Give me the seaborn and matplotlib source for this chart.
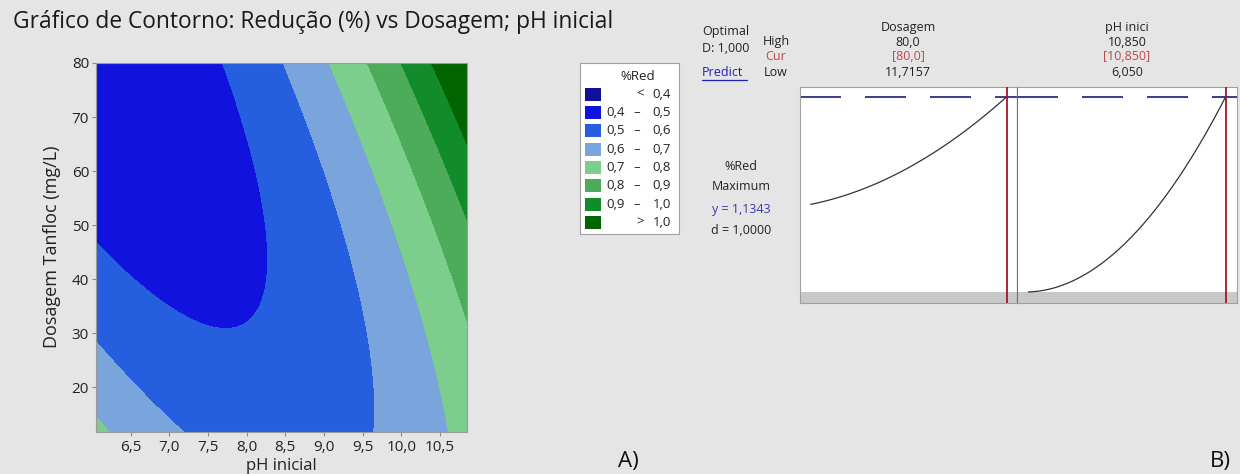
import numpy as np
import matplotlib
matplotlib.use("Agg")
import matplotlib.pyplot as plt
import seaborn as sns
from matplotlib.patches import Rectangle
from matplotlib.lines import Line2D

sns.set_theme(style="white")
plt.rcParams['font.family'] = ['Open Sans', 'DejaVu Sans']

# ---------------- data ----------------
ph_ticks = [6.5, 7.0, 7.5, 8.0, 8.5, 9.0, 9.5, 10.0, 10.5]
dose_ticks = [20, 30, 40, 50, 60, 70, 80]
ph_low, ph_high = 6.05, 10.85
dose_low, dose_high = 11.7157, 80.0
y_opt = 1.1343
d_opt = 1.0
D_opt = 1.0

# points on the contour boundaries (pH, dose, %Red)
pts_ph = [7.70, 8.03, 8.26, 8.29, 7.745, 6.97, 6.05,
          8.48, 8.83, 9.13, 9.45, 9.60, 9.66, 9.66, 6.05, 6.53, 7.18,
          9.04, 9.30, 9.56, 9.91, 10.17, 10.64, 6.05, 6.21,
          9.56, 9.95, 10.30, 10.64, 10.85,
          9.99, 10.30, 10.60, 10.85,
          10.38, 10.85,
          10.85, 10.85, 6.05]
pts_dose = [80, 70, 50.3, 42.3, 31.2, 38.0, 45.1,
            80, 70, 57.7, 42.3, 30, 14.6, 11.7, 27.8, 21.4, 11.7,
            80, 70, 57.7, 42.3, 30, 11.7, 14.6, 11.7,
            80, 70, 57.7, 42.3, 34.3,
            80, 70, 57.7, 52.2,
            80, 65.1,
            80, 11.7157, 80]
pts_red = [0.5] * 7 + [0.6] * 10 + [0.7] * 8 + [0.8] * 5 + [0.9] * 4 + [1.0] * 2 + [1.1343, 0.73, 0.42]

levels = [0.4, 0.5, 0.6, 0.7, 0.8, 0.9, 1.0]
colors = ['#10109a', '#1212de', '#265ee0', '#79a4dc', '#7dcd8c', '#4cac5a', '#128c2a', '#006400']

# ---------------- response surface (quadratic, as in Minitab) ----------------
def design(x, y):
    xs = (np.asarray(x, float) - 8.45) / 2.4
    ys = (np.asarray(y, float) - 45.86) / 34.14
    return np.column_stack([np.ones_like(xs), xs, ys, xs ** 2, ys ** 2, xs * ys])

coef, *_ = np.linalg.lstsq(design(pts_ph, pts_dose), np.array(pts_red), rcond=None)

def model(x, y):
    x, y = np.broadcast_arrays(np.asarray(x, float), np.asarray(y, float))
    return (design(x.ravel(), y.ravel()) @ coef).reshape(x.shape)

W, H = 1240, 474
def fx(px): return px / W
def fy(py): return 1 - py / H

bg = '#e5e5e5'
fig = plt.figure(figsize=(W / 100, H / 100), dpi=100, facecolor=bg)

# ---------------- A) contour plot ----------------
ax = fig.add_axes([fx(96), fy(432), fx(467) - fx(96), fy(63) - fy(432)])
pg = np.linspace(ph_low, ph_high, 400)
dg = np.linspace(dose_low, dose_high, 400)
PG, DG = np.meshgrid(pg, dg)
Z = model(PG, DG)
ax.contourf(PG, DG, Z, levels=levels, colors=colors, extend='both')
ax.set_xlim(ph_low, ph_high)
ax.set_ylim(dose_low, dose_high)
ax.set_xticks(ph_ticks)
ax.set_xticklabels([f"{t:.1f}".replace('.', ',') for t in ph_ticks])
ax.set_yticks(dose_ticks)
ax.set_yticklabels([str(t) for t in dose_ticks])
ax.tick_params(axis='both', which='both', direction='out', length=3, width=0.8,
               color='#8a8a8a', labelsize=11, labelcolor='#222222', bottom=True, left=True)
ax.tick_params(axis='x', pad=3)
ax.tick_params(axis='y', pad=2)
for s in ax.spines.values():
    s.set_color('#9a9a9a')
    s.set_linewidth(0.8)
ax.set_xlabel('')
ax.set_ylabel('')

fig.text(fx(13), fy(22), 'Gráfico de Contorno: Redução (%) vs Dosagem; pH inicial',
         ha='left', va='center', fontsize=16.4, color='#1a1a1a')
fig.text(fx(52), fy(247), 'Dosagem Tanfloc (mg/L)', rotation=90, ha='center', va='center',
         fontsize=13, color='#222222')
fig.text(fx(281), fy(473.5), 'pH inicial', ha='center', va='bottom', fontsize=12, color='#222222')

# legend box
lax = fig.add_axes([fx(580), fy(234), fx(679) - fx(580), fy(62.7) - fy(234)])
lax.set_xlim(580, 679)
lax.set_ylim(234, 62.7)
lax.set_facecolor('white')
lax.set_xticks([])
lax.set_yticks([])
for s in lax.spines.values():
    s.set_color('#a0a0a0')
    s.set_linewidth(0.8)
lfs = 9.5
lax.text(638, 76, '%Red', ha='center', va='center', fontsize=lfs, color='#222222')
fmt = lambda v: f"{v:.1f}".replace('.', ',')
rows = [('', '<', fmt(levels[0]))]
rows += [(fmt(levels[i]), '–', fmt(levels[i + 1])) for i in range(len(levels) - 1)]
rows += [('', '>', fmt(levels[-1]))]
for i, (c, (a, sep, b)) in enumerate(zip(colors, rows)):
    yy = 94.3 + i * 18.3
    lax.add_patch(Rectangle((585, yy - 6.5), 16, 13, facecolor=c, edgecolor='none'))
    if a:
        lax.text(606, yy, a, ha='left', va='center', fontsize=lfs, color='#222222')
        lax.text(637, yy, sep, ha='center', va='center', fontsize=lfs, color='#222222')
    else:
        lax.text(640, yy, sep, ha='center', va='center', fontsize=lfs, color='#222222')
    lax.text(671, yy, b, ha='right', va='center', fontsize=lfs, color='#222222')

fig.text(fx(628), fy(461), 'A)', ha='center', va='center', fontsize=16, color='#111111')

# ---------------- B) optimization profiler ----------------
d_curve = np.linspace(dose_low, dose_high, 200)
p_curve = np.linspace(ph_low, ph_high, 200)
zd = model(ph_high, d_curve)
zp = model(p_curve, dose_high)
zhi = float(model(ph_high, dose_high))
zlo = float(min(zd.min(), zp.min()))
rng = zhi - zlo
ylim = (zlo - rng * 11 / 195, zhi + rng * 9.7 / 195)

axL = fig.add_axes([fx(800), fy(303), fx(1017) - fx(800), fy(87) - fy(303)])
axR = fig.add_axes([fx(1017), fy(303), fx(1237) - fx(1017), fy(87) - fy(303)])

dppx = (dose_high - dose_low) / 196
pppx = (ph_high - ph_low) / 197.4
axL.set_xlim(dose_low - 10.7 * dppx, dose_high + 10.3 * dppx)
axR.set_xlim(ph_low - 11.3 * pppx, ph_high + 11.3 * pppx)

for a_, xs, zs, cur in [(axL, d_curve, zd, dose_high), (axR, p_curve, zp, ph_high)]:
    a_.set_facecolor('white')
    a_.set_ylim(*ylim)
    a_.axhspan(ylim[0], zlo, color='#c8c8c8', lw=0, zorder=1)
    sns.lineplot(x=xs, y=zs, ax=a_, color='#333333', lw=0.9, zorder=3)
    a_.axhline(zhi, color='#2d2d82', lw=1.3, dashes=(22.7, 13.3), zorder=2)
    a_.axvline(cur, color='#a01828', lw=1.3, zorder=4)
    a_.set_xticks([])
    a_.set_yticks([])
    a_.set_xlabel('')
    a_.set_ylabel('')
    for s in a_.spines.values():
        s.set_color('#a0a0a0')
        s.set_linewidth(0.8)
axL.spines['right'].set_color('#707070')
axR.spines['left'].set_color('#707070')

fs = 9
tc = '#222222'
red_c = '#c04848'
fig.text(fx(702), fy(31), 'Optimal', ha='left', va='center', fontsize=fs, color=tc)
fig.text(fx(702), fy(48), f"D: {D_opt:.3f}".replace('.', ','), ha='left', va='center', fontsize=fs, color=tc)
fig.text(fx(702), fy(72), 'Predict', ha='left', va='center', fontsize=fs, color='#2020b0')
fig.add_artist(Line2D([fx(702), fx(747)], [fy(80), fy(80)], color='#2020b0', lw=0.9,
                      transform=fig.transFigure))
fig.text(fx(776), fy(42), 'High', ha='center', va='center', fontsize=fs, color=tc)
fig.text(fx(776), fy(57), 'Cur', ha='center', va='center', fontsize=fs, color=red_c)
fig.text(fx(776), fy(72), 'Low', ha='center', va='center', fontsize=fs, color=tc)

cols = [(908, 'Dosagem', f"{dose_high:.1f}", f"{dose_low:.4f}"),
        (1127, 'pH inici', f"{ph_high:.3f}", f"{ph_low:.3f}")]
for cx, name, hi, lo in cols:
    hi = hi.replace('.', ',')
    lo = lo.replace('.', ',')
    fig.text(fx(cx), fy(28), name, ha='center', va='center', fontsize=fs, color=tc)
    fig.text(fx(cx), fy(42), hi, ha='center', va='center', fontsize=fs, color=tc)
    fig.text(fx(cx), fy(57), f"[{hi}]", ha='center', va='center', fontsize=fs, color=red_c)
    fig.text(fx(cx), fy(72), lo, ha='center', va='center', fontsize=fs, color=tc)

fig.text(fx(741), fy(166), '%Red', ha='center', va='center', fontsize=fs, color=tc)
fig.text(fx(741), fy(187), 'Maximum', ha='center', va='center', fontsize=fs, color=tc)
fig.text(fx(741), fy(209), f"y = {y_opt:.4f}".replace('.', ','), ha='center', va='center',
         fontsize=fs, color='#3a3aa8')
fig.text(fx(741), fy(230), f"d = {d_opt:.4f}".replace('.', ','), ha='center', va='center',
         fontsize=fs, color=tc)

fig.text(fx(1220), fy(461), 'B)', ha='center', va='center', fontsize=16, color='#111111')

fig.savefig('out.png', dpi=100, facecolor=bg)
